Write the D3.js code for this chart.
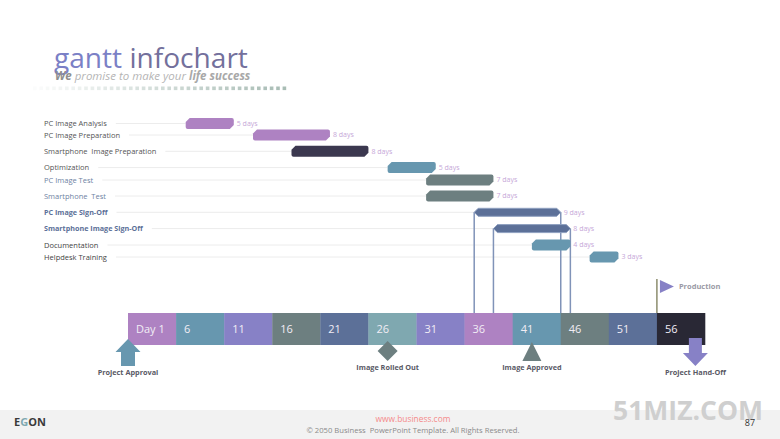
<!DOCTYPE html>
<html>
<head>
<meta charset="utf-8">
<script src="https://d3js.org/d3.v7.min.js"></script>
<style>
  html, body { margin: 0; padding: 0; background: #fff; }
  svg { display: block; }
  text { font-family: "Open Sans", sans-serif; }
</style>
</head>
<body>
<div id="chart"></div>
<script>
// data
const taskNames = ["PC Image Analysis", "PC Image Preparation", "Smartphone  Image Preparation", "Optimization",
  "PC Image Test", "Smartphone  Test", "PC Image Sign-Off", "Smartphone Image Sign-Off", "Documentation", "Helpdesk Training"];
const taskStarts = [7, 14, 18, 28, 32, 32, 37, 39, 43, 49];
const taskDays = [5, 8, 8, 5, 7, 7, 9, 8, 4, 3];
const taskGroups = ["pc", "pc", "phone", "opt", "test", "test", "signoff", "signoff", "opt", "opt"];
const dayTicks = [1, 6, 11, 16, 21, 26, 31, 36, 41, 46, 51, 56];
const milestoneNames = ["Project Approval", "Image Rolled Out", "Image Approved", "Project Hand-Off"];
const milestoneDays = [1, 28, 43, 60];
const productionDay = 56;

const width = 780, height = 439;
const purple = "#ae82c2", blue = "#6797af", violet = "#8781c6", slate = "#6d7f80", navy = "#5c7098", teal = "#7fa8b0", ink = "#292835";

const x = d3.scaleLinear().domain([1, 61]).range([128, 705]);
const y = d3.scaleOrdinal(taskNames, [123.5, 135, 151.3, 167.6, 180, 196, 212.3, 228.6, 245, 257]);
const groupColor = d3.scaleOrdinal(["pc", "phone", "opt", "test", "signoff"], [purple, "#3b384f", blue, slate, navy]);
const cellColor = d3.scaleOrdinal(dayTicks, [purple, blue, violet, slate, navy, teal, violet, purple, blue, slate, navy, ink]);
const labelColor = ["#555", "#555", "#555", "#555", "#6f83a3", "#6f83a3", "#5c7098", "#5c7098", "#444", "#444"];

const tasks = taskNames.map((name, i) => ({ name, start: taskStarts[i], days: taskDays[i], group: taskGroups[i], color: labelColor[i] }));

const svg = d3.select("#chart").append("svg").attr("width", width).attr("height", height);

// ── title ──
const title = svg.append("text").attr("x", 54).attr("y", 68).attr("font-size", 28.1);
title.append("tspan").attr("fill", "#7b80c6").text("gantt");
title.append("tspan").attr("fill", "#73709c").text(" infochart");

const sub = svg.append("text").attr("x", 55).attr("y", 80).attr("font-size", 11.5).attr("font-style", "italic").attr("fill", "#b5b5b5");
sub.append("tspan").attr("font-weight", 700).attr("fill", "#8f8f8f").text("We");
sub.append("tspan").text(" promise to make your ");
sub.append("tspan").attr("font-weight", 700).attr("fill", "#a8a8a8").text("life success");

svg.append("g").selectAll("rect").data(d3.range(40)).join("rect")
  .attr("x", d => 33 + d * 6.4).attr("y", 86.5).attr("width", 3.6).attr("height", 3.6)
  .attr("fill", "#9fb5ad").attr("opacity", d => 0.04 + d * 0.022);

// ── rows ──
const row = svg.append("g").selectAll("g").data(tasks).join("g");

row.append("text")
  .attr("x", 44).attr("y", d => y(d.name)).attr("dy", "0.35em")
  .attr("font-family", "Lato")
  .attr("font-size", d => d.group === "signoff" ? 7.2 : 7.5).attr("fill", d => d.color)
  .attr("font-weight", d => d.group === "signoff" ? 700 : 400)
  .attr("xml:space", "preserve")
  .text(d => d.name);

row.append("line")
  .attr("x1", function () { return 44 + this.parentNode.querySelector("text").getComputedTextLength() + 9; })
  .attr("x2", d => x(d.start))
  .attr("y1", d => y(d.name)).attr("y2", d => y(d.name))
  .attr("stroke", "#ececec").attr("stroke-width", 1);

// drop lines go under the bars
const signoffs = tasks.filter(d => d.group === "signoff");
svg.append("g").attr("stroke", "#8093b8").attr("stroke-width", 1.5).selectAll("line")
  .data(signoffs.flatMap(d => [{ d, day: d.start }, { d, day: d.start + d.days }]))
  .join("line")
  .attr("x1", e => x(e.day)).attr("x2", e => x(e.day))
  .attr("y1", e => y(e.d.name)).attr("y2", 313);

function barPath(d) {
  const x0 = x(d.start), x1 = x(d.start + d.days), m = y(d.name), h = d3.path();
  if (d.group === "signoff") {
    const t = m - 4, b = m + 4;
    h.moveTo(x0, m); h.lineTo(x0 + 4, t); h.lineTo(x1 - 4, t); h.lineTo(x1, m); h.lineTo(x1 - 4, b); h.lineTo(x0 + 4, b);
  } else {
    const t = m - 5.5, b = m + 5.5;
    h.moveTo(x0 + 4, t); h.lineTo(x1 - 2, t); h.quadraticCurveTo(x1, t, x1, t + 2); h.lineTo(x1, b - 4);
    h.lineTo(x1 - 4, b); h.lineTo(x0 + 2, b); h.quadraticCurveTo(x0, b, x0, b - 2); h.lineTo(x0, t + 4);
  }
  h.closePath();
  return h.toString();
}

svg.append("g").selectAll("path").data(tasks).join("path")
  .attr("d", barPath)
  .attr("fill", d => groupColor(d.group))
  .attr("stroke", d => d.group === "signoff" ? "#8fa0c0" : "none")
  .attr("stroke-width", 1);

svg.append("g").selectAll("text").data(tasks).join("text")
  .attr("x", d => x(d.start + d.days) + 3).attr("y", d => y(d.name)).attr("dy", "0.35em")
  .attr("font-size", 7).attr("fill", "#c6a7d8")
  .text(d => `${d.days} days`);

// ── day strip ──
const stripTop = 313, stripH = 32;
const cellW = x(6) - x(1);
const cell = svg.append("g").selectAll("g").data(dayTicks).join("g")
  .attr("transform", d => `translate(${x(d)},${stripTop})`);
cell.append("rect").attr("width", cellW + 0.3).attr("height", stripH).attr("fill", d => cellColor(d));
cell.append("text").attr("x", 8).attr("y", stripH / 2).attr("dy", "0.36em")
  .attr("font-size", 11).attr("fill", "#f1edf5")
  .text(d => d === 1 ? "Day 1" : d);

// ── milestones ──
const msShapes = [
  { color: blue, pts: [[-12.5, 13], [0, 0], [12.5, 13], [7, 13], [7, 27], [-7, 27], [-7, 13]], top: 339 },
  { color: slate, pts: [[0, 0], [10, 10], [0, 20], [-10, 10]], top: 341 },
  { color: slate, pts: [[0, 0], [9.5, 19], [-9.5, 19]], top: 342 },
  { color: violet, pts: [[-6.5, 0], [6.5, 0], [6.5, 15], [12.5, 15], [0, 28], [-12.5, 15], [-6.5, 15]], top: 338 }
];
const labelY = [372, 367, 367, 372];

svg.append("g").selectAll("polygon").data(milestoneDays).join("polygon")
  .attr("points", (d, i) => msShapes[i].pts.map(p => [x(d) + p[0], msShapes[i].top + p[1]].join(",")).join(" "))
  .attr("fill", (d, i) => msShapes[i].color);

svg.append("g").selectAll("text").data(milestoneNames).join("text")
  .attr("x", (d, i) => x(milestoneDays[i]))
  .attr("y", (d, i) => labelY[i]).attr("dy", "0.35em")
  .attr("text-anchor", "middle").attr("font-family", "Lato").attr("font-size", 7.3).attr("font-weight", 700).attr("fill", "#5a5a66")
  .text(d => d);

// production flag
const flagX = x(productionDay);
svg.append("line").attr("x1", flagX).attr("x2", flagX).attr("y1", 279).attr("y2", stripTop)
  .attr("stroke", "#6f7048").attr("stroke-width", 1.2);
svg.append("polygon").attr("fill", violet)
  .attr("points", [[flagX + 3, 280], [flagX + 17, 286.5], [flagX + 3, 293]].join(" "));
svg.append("text").attr("x", flagX + 22).attr("y", 286).attr("dy", "0.35em")
  .attr("font-family", "Lato").attr("font-size", 7.5).attr("font-weight", 700).attr("fill", "#9a9aa5").text("Production");

// ── footer ──
svg.append("rect").attr("x", 0).attr("y", 410).attr("width", width).attr("height", 29).attr("fill", "#f2f2f2");
const egon = svg.append("text").attr("x", 14).attr("y", 426).attr("font-family", "Lato").attr("font-size", 11).attr("font-weight", 700).attr("fill", "#3a3a3a");
egon.append("tspan").text("E");
egon.append("tspan").attr("fill", "#7fa8b0").text("G");
egon.append("tspan").text("ON");
svg.append("text").attr("x", 413).attr("y", 419).attr("dy", "0.35em").attr("text-anchor", "middle")
  .attr("font-family", "Lato").attr("font-size", 8.4).attr("fill", "#f58a8a").text("www.business.com");
svg.append("text").attr("x", 413).attr("y", 430).attr("dy", "0.35em").attr("text-anchor", "middle")
  .attr("font-size", 7.65).attr("fill", "#8a8a8a").attr("xml:space", "preserve").text("© 2050 Business  PowerPoint Template. All Rights Reserved.");
svg.append("text").attr("x", 763).attr("y", 420).attr("text-anchor", "end")
  .attr("font-size", 26.5).attr("font-weight", 700).attr("fill", "#cfcfcf")
  .attr("font-family", "Liberation Sans").text("51MIZ.COM");
svg.append("text").attr("x", 750).attr("y", 423).attr("dy", "0.35em").attr("text-anchor", "middle")
  .attr("font-family", "Lato").attr("font-size", 9).attr("fill", "#333").text("87");
</script>
</body>
</html>
